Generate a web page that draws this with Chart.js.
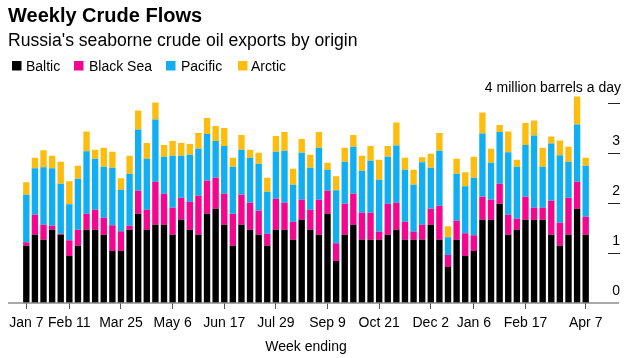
<!DOCTYPE html>
<html>
<head>
<meta charset="utf-8">
<script src="https://cdn.jsdelivr.net/npm/chart.js@4.4.1/dist/chart.umd.min.js"></script>
<style>
html,body{margin:0;padding:0;background:#fff;}
#wrap{width:637px;height:358px;position:relative;}
</style>
</head>
<body>
<div id="wrap"><canvas id="c" width="637" height="358"></canvas></div>
<script>
const weeks = ["Jan 7","Jan 14","Jan 21","Jan 28","Feb 4","Feb 11","Feb 18","Feb 25","Mar 4","Mar 11","Mar 18","Mar 25","Apr 1","Apr 8","Apr 15","Apr 22","Apr 29","May 6","May 13","May 20","May 27","Jun 3","Jun 10","Jun 17","Jun 24","Jul 1","Jul 8","Jul 15","Jul 22","Jul 29","Aug 5","Aug 12","Aug 19","Aug 26","Sep 2","Sep 9","Sep 16","Sep 23","Sep 30","Oct 7","Oct 14","Oct 21","Oct 28","Nov 4","Nov 11","Nov 18","Nov 25","Dec 2","Dec 9","Dec 16","Dec 23","Dec 30","Jan 6","Jan 13","Jan 20","Jan 27","Feb 3","Feb 10","Feb 17","Feb 24","Mar 3","Mar 10","Mar 17","Mar 24","Mar 31","Apr 7"];
const shownTicks = [0,5,11,17,23,29,35,41,47,52,58,65];

const baltic = [1.15,1.37,1.27,1.47,1.37,0.94,1.15,1.47,1.47,1.37,
  1.04,1.04,1.47,1.79,1.47,1.57,1.57,1.37,1.67,1.47,
  1.37,1.79,1.89,1.57,1.15,1.57,1.47,1.37,1.15,1.47,
  1.47,1.27,1.67,1.47,1.37,1.79,0.84,1.37,1.57,1.27,
  1.27,1.27,1.37,1.47,1.27,1.27,1.27,1.57,1.27,0.72,
  1.27,0.94,1.04,1.67,1.67,1.99,1.37,1.47,1.67,1.67,
  1.67,1.37,1.15,1.37,1.89,1.37];
const blackSea = [0.07,0.40,0.30,0.08,0.02,0.32,0.32,0.32,0.40,0.34,
  0.52,0.40,0.08,0.46,0.40,0.86,0.62,0.54,0.44,0.56,
  0.78,0.66,0.62,0.62,0.64,0.60,0.54,0.48,0.24,0.62,
  0.54,0.36,0.40,0.40,0.70,0.46,0.36,0.62,0.62,0.54,
  0.54,0.16,0.62,0.54,0.36,0.16,0.30,0.32,0.68,0.24,
  0.38,0.46,0.32,0.46,0.40,0.40,0.40,0.22,0.46,0.24,
  0.24,0.68,0.46,0.74,0.54,0.36];
const pacific = [0.95,0.93,1.15,1.15,1.00,0.72,1.02,1.25,1.02,1.02,
  1.15,0.83,1.04,1.23,1.02,1.25,0.74,1.04,0.84,0.94,
  0.94,0.94,0.74,0.96,0.94,0.90,0.90,0.94,0.84,0.94,
  1.04,0.74,0.94,0.84,1.04,0.42,1.06,0.84,0.94,0.84,
  1.04,1.04,0.94,1.15,1.04,0.94,1.25,0.82,1.10,0.36,
  0.94,0.94,1.15,1.27,0.74,1.04,1.25,1.04,1.04,1.45,
  0.82,1.15,1.35,0.72,1.15,1.02];
const arctic = [0.25,0.21,0.34,0.25,0.44,0.46,0.26,0.40,0.18,0.38,
  0.32,0.23,0.36,0.38,0.32,0.34,0.24,0.30,0.26,0.22,
  0.32,0.32,0.30,0.36,0.18,0.30,0.16,0.22,0.28,0.32,
  0.38,0.32,0.28,0.26,0.32,0.14,0.28,0.28,0.24,0.30,
  0.30,0.40,0.22,0.46,0.24,0.30,0.10,0.28,0.36,0.22,
  0.30,0.28,0.42,0.42,0.28,0.14,0.42,0.14,0.44,0.30,
  0.38,0.14,0.30,0.30,0.56,0.16];
const yTicks = [0,1,2,3];
const yUnit = "4 million barrels a day";

const FONT = "'Liberation Sans', Arial, Helvetica, sans-serif";
const colors = {baltic:'#000000', blackSea:'#f2078e', pacific:'#12aef2', arctic:'#fdbd0f'};

const decor = {
  id:'decor',
  afterDatasetsDraw(chart){
    const ctx = chart.ctx, y = chart.scales.y;
    ctx.save();
    // baseline
    ctx.strokeStyle = '#8c8c8c'; ctx.lineWidth = 1.5;
    ctx.beginPath(); ctx.moveTo(8, y.getPixelForValue(0)); ctx.lineTo(619, y.getPixelForValue(0)); ctx.stroke();
    // y tick marks
    ctx.strokeStyle = '#222'; ctx.lineWidth = 1;
    [1,2,3,4].forEach(v=>{
      const py = Math.round(y.getPixelForValue(v))+0.5;
      ctx.beginPath(); ctx.moveTo(608, py); ctx.lineTo(620, py); ctx.stroke();
    });
    ctx.fillStyle = '#000';
    ctx.font = '14px ' + FONT;
    ctx.textAlign = 'right'; ctx.textBaseline = 'alphabetic';
    yTicks.forEach(v=>{ ctx.fillText(String(v), 620, y.getPixelForValue(v) - 8); });
    ctx.fillText(yUnit, 621, y.getPixelForValue(4) - 11);
    // title / subtitle
    ctx.textAlign = 'left';
    ctx.font = 'bold 20px ' + FONT;
    ctx.fillText('Weekly Crude Flows', 8, 22);
    ctx.font = '17.6px ' + FONT;
    ctx.fillText("Russia's seaborne crude oil exports by origin", 8, 46);
    // legend
    ctx.font = '14px ' + FONT;
    const boxX = [12, 74, 166, 238], txtX = [26, 89, 181, 251];
    chart.data.datasets.forEach((ds,i)=>{
      ctx.fillStyle = ds.backgroundColor;
      ctx.fillRect(boxX[i], 61, 9.5, 9.5);
      ctx.fillStyle = '#000';
      ctx.fillText(ds.label, txtX[i], 71);
    });
    ctx.restore();
  }
};

new Chart(document.getElementById('c'), {
  type:'bar',
  data:{
    labels: weeks,
    datasets:[
      {label:'Baltic', data: baltic, backgroundColor: colors.baltic},
      {label:'Black Sea', data: blackSea, backgroundColor: colors.blackSea},
      {label:'Pacific', data: pacific, backgroundColor: colors.pacific},
      {label:'Arctic', data: arctic, backgroundColor: colors.arctic}
    ]
  },
  options:{
    responsive:false,
    animation:false,
    layout:{padding:{top:93.5, right:47, bottom:0, left:22}},
    datasets:{bar:{barPercentage:0.74, categoryPercentage:1, borderWidth:0}},
    plugins:{legend:{display:false}, title:{display:false}, tooltip:{enabled:false}},
    scales:{
      x:{
        stacked:true,
        offset:true,
        border:{display:false},
        grid:{
          offset:false, drawOnChartArea:false, drawTicks:true, tickLength:6,
          color: c => shownTicks.includes(c.index) ? '#555' : 'rgba(0,0,0,0)',
          lineWidth:1
        },
        ticks:{
          autoSkip:false, maxRotation:0, minRotation:0, padding:6,
          color:'#000', font:{family:FONT, size:14},
          callback:(v,i)=> shownTicks.includes(i) ? weeks[i] : ''
        },
        title:{display:true, text:'Week ending', color:'#000', font:{family:FONT, size:14}, padding:{top:2,bottom:2.5}},
        afterFit: s => { s.height = 55; }
      },
      y:{
        stacked:true, display:false, min:0, max:4.2
      }
    }
  },
  plugins:[decor]
});
</script>
</body>
</html>
